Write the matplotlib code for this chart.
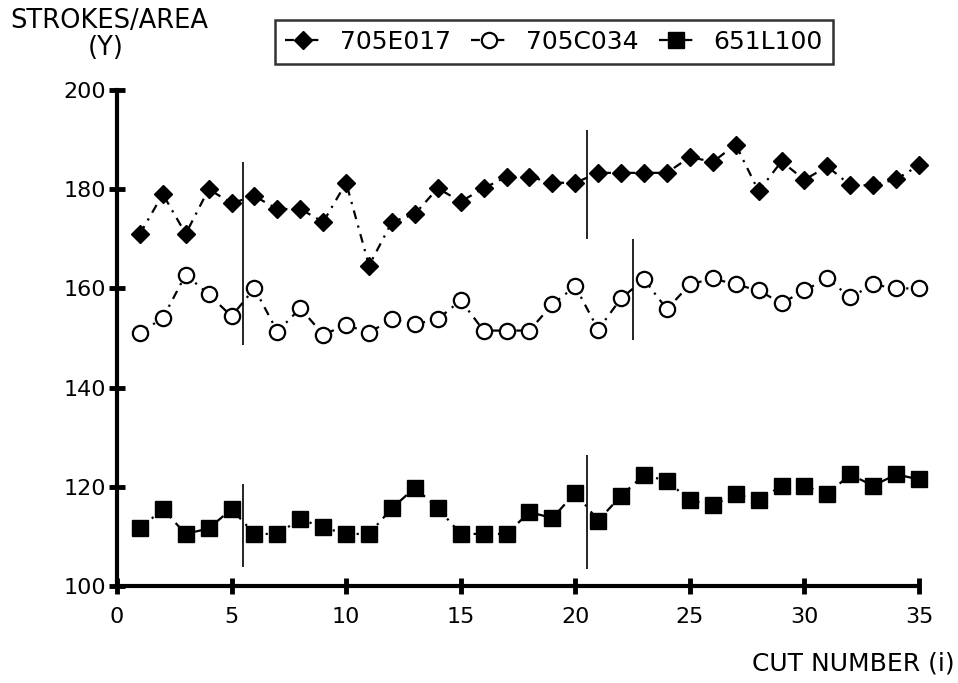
import numpy as np
import matplotlib
matplotlib.use("Agg")
import matplotlib.pyplot as plt

# cut number along the x axis
cut = np.arange(1, 36)

# strokes per area for each sample
s705e017 = [171, 179, 171, 180, 177.2, 178.6, 176, 176, 173.4, 181.3,
            164.6, 173.4, 175, 180.2, 177.5, 180.2, 182.5, 182.5, 181.3, 181.3,
            183.3, 183.3, 183.3, 183.3, 186.5, 185.5, 189, 179.6, 185.6, 181.9,
            184.6, 180.8, 180.8, 182, 184.8]
s705c034 = [151.1, 154, 162.8, 158.8, 154.4, 160, 151.3, 156, 150.7, 152.6,
            151.1, 153.8, 152.8, 153.8, 157.6, 151.5, 151.5, 151.5, 156.8, 160.4,
            151.7, 158, 161.8, 155.8, 160.8, 162, 160.8, 159.6, 157, 159.6,
            162, 158.2, 160.8, 160, 160]
s651l100 = [111.6, 115.5, 110.5, 111.6, 115.5, 110.5, 110.5, 113.5, 111.8, 110.5,
            110.5, 115.7, 119.8, 115.7, 110.5, 110.5, 110.5, 114.9, 113.7, 118.8,
            113.2, 118.2, 122.4, 121.2, 117.3, 116.3, 118.5, 117.3, 120.2, 120.2,
            118.5, 122.5, 120.2, 122.5, 121.5]
labels = ["705E017", "705C034", "651L100"]

# thin vertical lines marking breaks between runs
break_x = [5.5, 20.5, 22.5, 5.5, 20.5]
break_lo = [148.5, 170, 149.5, 103.8, 103.5]
break_hi = [185.5, 192, 170, 120.5, 126.5]

xticks = [0, 5, 10, 15, 20, 25, 30, 35]
yticks = [100, 120, 140, 160, 180, 200]

plt.rcParams["font.family"] = ["DejaVu Sans"]

fig = plt.figure(figsize=(9.58, 6.83), dpi=100)
ax = fig.add_axes([0.1221, 0.142, 0.8372, 0.7262])

dashdot = (0, (4, 3, 1, 3))
ax.plot(cut, s705e017, color="black", lw=1.6, ls=dashdot, marker="D",
        ms=9.5, mfc="black", mec="black", label=labels[0], clip_on=False)
ax.plot(cut, s705c034, color="black", lw=1.6, ls=dashdot, marker="o",
        ms=11, mfc="white", mec="black", mew=1.6, label=labels[1], clip_on=False)
ax.plot(cut, s651l100, color="black", lw=1.6, ls=dashdot, marker="s",
        ms=11, mfc="black", mec="black", label=labels[2], clip_on=False)

ax.vlines(break_x, break_lo, break_hi, color="black", lw=1.2)

ax.set_xlim(0, 35)
ax.set_ylim(100, 200)
ax.set_xticks(xticks)
ax.set_yticks(yticks)
for side in ["top", "right"]:
    ax.spines[side].set_visible(False)
for side in ["left", "bottom"]:
    ax.spines[side].set_linewidth(3)
ax.tick_params(direction="inout", length=12, width=3.5, labelsize=16)
ax.tick_params(axis="x", pad=9)
ax.tick_params(axis="y", pad=2)

fig.text(109 / 958, 1 - 21 / 683, "STROKES/AREA", ha="center", va="center", fontsize=18.5)
fig.text(106 / 958, 1 - 48 / 683, "(Y)", ha="center", va="center", fontsize=18.5)
fig.text(955 / 958, 1 - 663 / 683, "CUT NUMBER (i)", ha="right", va="center", fontsize=18)

leg = fig.legend(loc="center", bbox_to_anchor=(554 / 958, 1 - 42 / 683), ncol=3,
                 fontsize=18, frameon=True, fancybox=False, handlelength=1.4,
                 handletextpad=0.8, columnspacing=0.8, borderpad=0.4)
leg.get_frame().set_edgecolor("black")
leg.get_frame().set_linewidth(1.8)

fig.savefig("out.png", dpi=100)
